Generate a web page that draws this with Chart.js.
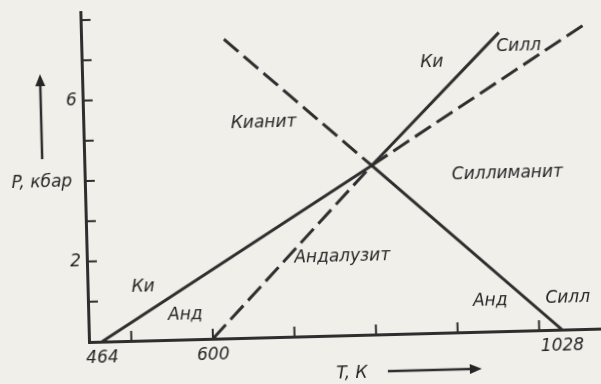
<!DOCTYPE html>
<html lang="ru">
<head>
<meta charset="utf-8">
<script src="https://cdn.jsdelivr.net/npm/chart.js@4.4.1/dist/chart.umd.min.js"></script>
<style>
  html, body { margin: 0; padding: 0; width: 601px; height: 384px; overflow: hidden; background: #f1efe9; }
  #wrap { position: absolute; left: 0; top: 0; width: 640px; height: 420px;
          transform-origin: 89px 342px; transform: rotate(-1.5deg); }
</style>
</head>
<body>
<div id="wrap"><canvas id="diagram" width="640" height="420"></canvas></div>
<script>
// тройная точка Al2SiO5
const tripleT = 800;
const tripleP = 4.2;

// кианит / андалузит
const kiAndT = [464, tripleT];
const kiAndP = [0, tripleP];
const kiAndMetaT = [tripleT, 1063];
const kiAndMetaP = [tripleP, 7.54];

// кианит / силлиманит
const kiSilT = [tripleT, 960];
const kiSilP = [tripleP, 7.42];
const kiSilMetaT = [600, tripleT];
const kiSilMetaP = [0, tripleP];

// андалузит / силлиманит
const andSilT = [tripleT, 1028];
const andSilP = [tripleP, 0];
const andSilMetaT = [623, tripleT];
const andSilMetaP = [7.43, tripleP];

// оси
const tickT = [500, 600, 700, 800, 900, 1000];
const labelT = [464, 600, 1028];
const tickP = [1, 2, 3, 4, 5, 6, 7, 8];
const labelP = [2, 6];

// подписи полей
const fieldNames = ["Кианит", "Ки", "Силл", "Силлиманит", "Андалузит", "Ки", "Анд", "Анд", "Силл"];
const fieldT = [669, 877, 984, 966, 761, 516, 567, 941, 1036];
const fieldP = [5.32, 6.72, 7.06, 3.91, 1.94, 1.33, 0.61, 0.75, 0.77];

const ink = "#2e2e2e";
const textInk = "#262626";
const font = { family: "DejaVu Sans", style: "italic", size: 17 };
const fontCss = "italic 17px 'DejaVu Sans'";

const pts = (T, P) => T.map((t, i) => ({ x: t, y: P[i] }));

const line = (T, P, dashed) => ({
    data: pts(T, P),
    borderColor: ink,
    borderWidth: 3,
    borderDash: dashed ? [19, 7] : [],
    borderCapStyle: "butt",
    pointRadius: 0,
    fill: false,
    tension: 0
});

const arrow = (ctx, x1, y1, x2, y2) => {
    const a = Math.atan2(y2 - y1, x2 - x1);
    ctx.beginPath();
    ctx.moveTo(x1, y1);
    ctx.lineTo(x2 - 8 * Math.cos(a), y2 - 8 * Math.sin(a));
    ctx.stroke();
    ctx.beginPath();
    ctx.moveTo(x2, y2);
    ctx.lineTo(x2 - 12 * Math.cos(a) + 5 * Math.sin(a), y2 - 12 * Math.sin(a) - 5 * Math.cos(a));
    ctx.lineTo(x2 - 12 * Math.cos(a) - 5 * Math.sin(a), y2 - 12 * Math.sin(a) + 5 * Math.cos(a));
    ctx.closePath();
    ctx.fill();
};

// засечки внутрь поля, подписи полей и осей
const decorations = {
    id: "decorations",
    afterDraw(chart) {
        const { ctx, chartArea: area, scales: { x, y } } = chart;
        ctx.save();
        ctx.strokeStyle = ink;
        ctx.fillStyle = textInk;
        ctx.lineWidth = 2;
        tickT.forEach(t => {
            const px = x.getPixelForValue(t);
            ctx.beginPath();
            ctx.moveTo(px, area.bottom);
            ctx.lineTo(px, area.bottom - 10);
            ctx.stroke();
        });
        tickP.forEach(p => {
            const py = y.getPixelForValue(p);
            ctx.beginPath();
            ctx.moveTo(area.left, py);
            ctx.lineTo(area.left + 10, py);
            ctx.stroke();
        });

        ctx.font = fontCss;
        ctx.textAlign = "center";
        ctx.textBaseline = "middle";
        fieldNames.forEach((name, i) => {
            ctx.fillText(name, x.getPixelForValue(fieldT[i]), y.getPixelForValue(fieldP[i]));
        });

        ctx.fillText("P, кбар", area.left - 43, 182);
        ctx.fillText("T, К", 351, 381);
        ctx.lineWidth = 2.5;
        arrow(ctx, area.left - 42, 158, area.left - 42, 73);
        arrow(ctx, 387, 379, 481, 379);
        ctx.restore();
    }
};

new Chart(document.getElementById("diagram"), {
    type: "line",
    data: {
        datasets: [
            line(kiAndT, kiAndP, false),
            line(kiAndMetaT, kiAndMetaP, true),
            line(kiSilT, kiSilP, false),
            line(kiSilMetaT, kiSilMetaP, true),
            line(andSilT, andSilP, false),
            line(andSilMetaT, andSilMetaP, true)
        ]
    },
    options: {
        responsive: false,
        animation: false,
        events: [],
        layout: { padding: { top: 12, right: 37, left: 0, bottom: 0 } },
        plugins: { legend: { display: false }, tooltip: { enabled: false } },
        scales: {
            x: {
                type: "linear",
                min: 448,
                max: 1078,
                afterBuildTicks: s => { s.ticks = labelT.map(v => ({ value: v })); },
                afterFit: s => { s.height = 78; s.paddingLeft = 0; s.paddingRight = 0; },
                grid: { display: false, drawTicks: false },
                border: { display: true, color: ink, width: 3 },
                ticks: { color: textInk, font, padding: 6, maxRotation: 0, autoSkip: false, callback: v => String(v) }
            },
            y: {
                type: "linear",
                min: 0,
                max: 8.2,
                afterBuildTicks: s => { s.ticks = labelP.map(v => ({ value: v })); },
                afterFit: s => { s.width = 89; s.paddingTop = 0; s.paddingBottom = 0; },
                grid: { display: false, drawTicks: false },
                border: { display: true, color: ink, width: 3 },
                ticks: { color: textInk, font, padding: 6, callback: v => String(v) }
            }
        }
    },
    plugins: [decorations]
});
</script>
</body>
</html>
